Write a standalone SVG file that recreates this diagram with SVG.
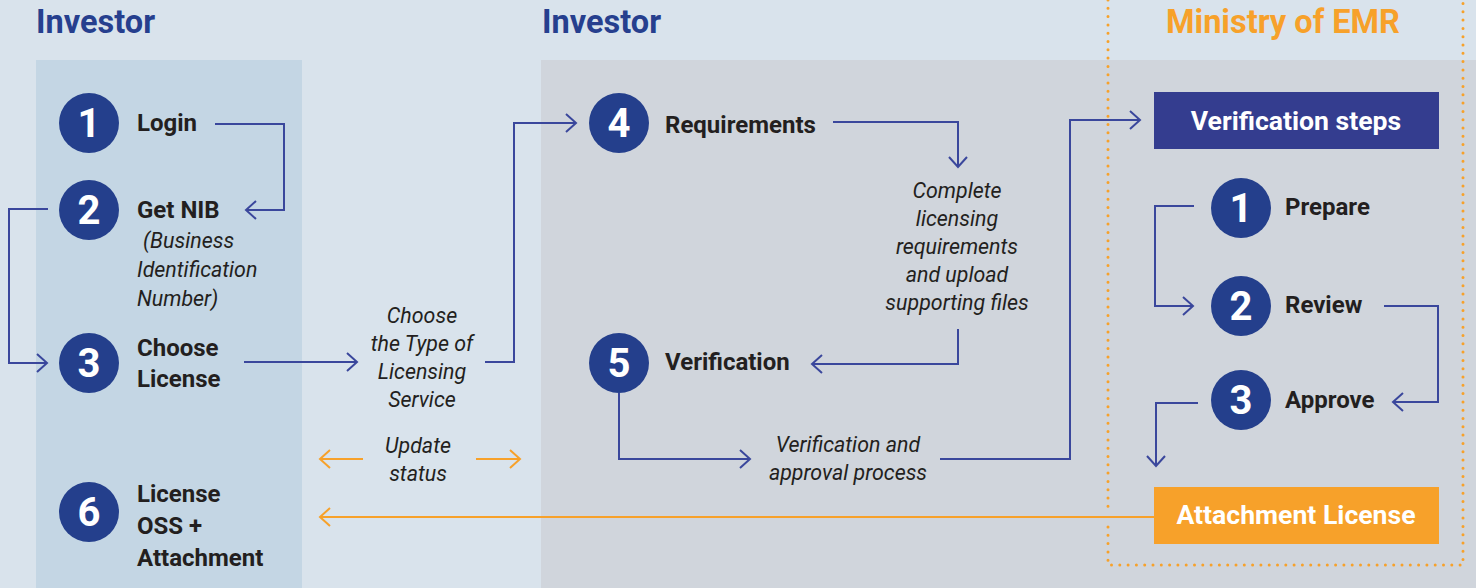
<svg xmlns="http://www.w3.org/2000/svg" width="1476" height="588" viewBox="0 0 1476 588">
<style>
.hdr{font-family:Roboto,"Liberation Sans",sans-serif;font-weight:700;font-size:32.5px;fill:#263f8e}
.ttl{font-family:Roboto,"Liberation Sans",sans-serif;font-weight:700;font-size:24px;fill:#231f20}
.it{font-family:Roboto,"Liberation Sans",sans-serif;font-style:italic;font-size:21.4px;fill:#231f20}
.num{font-family:Roboto,"Liberation Sans",sans-serif;font-weight:700;font-size:40px;fill:#ffffff;text-anchor:middle}
.circ{fill:#243f8c}
.box{font-family:Roboto,"Liberation Sans",sans-serif;font-weight:700;font-size:26.6px;fill:#ffffff;text-anchor:middle}
.c{text-anchor:middle}
.ln{fill:none;stroke:#3a479c;stroke-width:2;marker-end:url(#ab)}
.ol{fill:none;stroke:#f7a12a;stroke-width:2;marker-end:url(#ao)}
</style>
<defs>
<marker id="ab" viewBox="-12 -11 14 22" refX="0" refY="0" markerWidth="14" markerHeight="22" orient="auto" markerUnits="userSpaceOnUse"><path d="M-10,-9 L0,0 L-10,9" fill="none" stroke="#3a479c" stroke-width="2"/></marker>
<marker id="ao" viewBox="-12 -11 14 22" refX="0" refY="0" markerWidth="14" markerHeight="22" orient="auto" markerUnits="userSpaceOnUse"><path d="M-10,-9 L0,0 L-10,9" fill="none" stroke="#f7a12a" stroke-width="2"/></marker>
</defs>
<rect x="0" y="0" width="1476" height="588" fill="#d9e3ec"/>
<rect x="36" y="60" width="266" height="528" fill="#c4d6e4"/>
<rect x="541" y="60" width="935" height="528" fill="#d0d5dc"/>
<g id="frame-emr" fill="none" stroke="#f7a12a" stroke-width="3" stroke-linecap="round" stroke-dasharray="0 8.3">
<path d="M1108,0 V508"/>
<path d="M1108,527 V565 H1463 V0"/>
</g>
<g id="headers">
<text class="hdr" x="36" y="33">Investor</text>
<text class="hdr" x="542" y="33">Investor</text>
<text class="hdr" x="1283" y="33" text-anchor="middle" style="fill:#f7a12a">Ministry of EMR</text>
</g>
<g id="step1"><circle class="circ" cx="89" cy="123" r="30"/><text class="num" x="89" y="137">1</text><text class="ttl" x="137" y="131">Login</text></g>
<g id="step2"><circle class="circ" cx="89" cy="210" r="30"/><text class="num" x="89" y="224">2</text><text class="ttl" x="137" y="218">Get NIB</text>
<text class="it" x="143" y="248">(Business</text><text class="it" x="137" y="277">Identification</text><text class="it" x="137" y="306">Number)</text></g>
<g id="step3"><circle class="circ" cx="89" cy="363" r="30"/><text class="num" x="89" y="377">3</text><text class="ttl" x="137" y="356">Choose</text><text class="ttl" x="137" y="387">License</text></g>
<g id="step6"><circle class="circ" cx="89" cy="512" r="30"/><text class="num" x="89" y="526">6</text><text class="ttl" x="137" y="502">License</text><text class="ttl" x="137" y="534">OSS +</text><text class="ttl" x="137" y="566">Attachment</text></g>
<g id="step4"><circle class="circ" cx="619" cy="123" r="30"/><text class="num" x="619" y="137">4</text><text class="ttl" x="665" y="133">Requirements</text></g>
<g id="step5"><circle class="circ" cx="619" cy="363" r="30"/><text class="num" x="619" y="377">5</text><text class="ttl" x="665" y="370">Verification</text></g>
<g id="label-choose-type"><text class="it c" x="422" y="323">Choose</text><text class="it c" x="422" y="351">the Type of</text><text class="it c" x="422" y="379">Licensing</text><text class="it c" x="422" y="407">Service</text></g>
<g id="label-update"><text class="it c" x="418" y="453">Update</text><text class="it c" x="418" y="481">status</text></g>
<g id="label-complete"><text class="it c" x="957" y="198">Complete</text><text class="it c" x="957" y="226">licensing</text><text class="it c" x="957" y="254">requirements</text><text class="it c" x="957" y="282">and upload</text><text class="it c" x="957" y="310">supporting files</text></g>
<g id="label-verif-process"><text class="it c" x="848" y="452">Verification and</text><text class="it c" x="848" y="480">approval process</text></g>
<g id="verification-steps"><rect x="1154" y="92" width="285" height="57" fill="#343d8f"/><text class="box" x="1296" y="130">Verification steps</text></g>
<g id="emr1"><circle class="circ" cx="1241" cy="208" r="30"/><text class="num" x="1241" y="222">1</text><text class="ttl" x="1285" y="215">Prepare</text></g>
<g id="emr2"><circle class="circ" cx="1241" cy="306" r="30"/><text class="num" x="1241" y="320">2</text><text class="ttl" x="1285" y="313">Review</text></g>
<g id="emr3"><circle class="circ" cx="1241" cy="400" r="30"/><text class="num" x="1241" y="414">3</text><text class="ttl" x="1285" y="408">Approve</text></g>
<g id="attachment-license"><rect x="1154" y="487" width="285" height="57" fill="#f7a12a"/><text class="box" x="1296" y="524">Attachment License</text></g>
<g id="connectors">
<path class="ln" d="M215,124 H284 V210 H246"/>
<path class="ln" d="M48,209 H9 V363 H47"/>
<path class="ln" d="M244,362 H357"/>
<path class="ln" d="M485,362 H514 V123 H576"/>
<path class="ln" d="M833,122 H958 V167"/>
<path class="ln" d="M958,329 V364 H812"/>
<path class="ln" d="M619,393 V459 H750"/>
<path class="ln" d="M940,459 H1070 V120 H1140"/>
<path class="ln" d="M1194,206 H1155 V306 H1193"/>
<path class="ln" d="M1384,306 H1438 V402 H1393"/>
<path class="ln" d="M1198,403 H1156 V466"/>
<path class="ol" d="M363,459 H320"/>
<path class="ol" d="M476,459 H520"/>
<path class="ol" d="M1154,517 H320"/>
</g>
</svg>
